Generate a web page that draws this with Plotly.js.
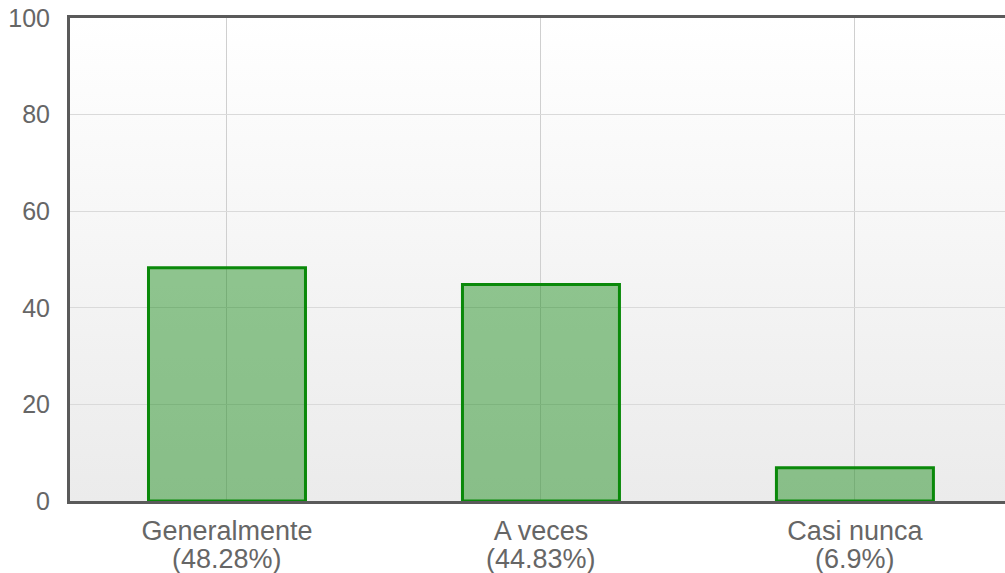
<!DOCTYPE html>
<html>
<head>
<meta charset="utf-8">
<script src="https://cdn.plot.ly/plotly-3.0.1.min.js"></script>
<style>
html,body{margin:0;padding:0;background:#fff;overflow:hidden;}
#wrap{position:relative;width:1005px;height:573px;}
#bg{position:absolute;left:70px;top:18px;width:935px;height:483px;background:linear-gradient(#ffffff,#ebebeb);}
#chart{position:absolute;left:0;top:0;width:1005px;height:573px;}
</style>
</head>
<body>
<div id="wrap"><div id="bg"></div><div id="chart"></div></div>
<script>
const categories = ["Generalmente", "A veces", "Casi nunca"];
const percents = [48.28, 44.83, 6.9];
const percentLabels = ["(48.28%)", "(44.83%)", "(6.9%)"];
const yTicks = [0, 20, 40, 60, 80, 100];

const trace = {
  type: "bar",
  x: categories,
  y: percents,
  width: 0.5,
  marker: {color: "rgba(0,128,0,0.42)", line: {color: "#0a890a", width: 3}},
  hoverinfo: "none"
};

const annotations = categories.map((c, i) => ({
  x: c, xref: "x", y: 0, yref: "paper",
  yanchor: "top", yshift: -41,
  text: percentLabels[i], showarrow: false,
  font: {family: "Liberation Sans, Arial, sans-serif", size: 27, color: "#666"}
}));

const layout = {
  width: 1005, height: 573,
  margin: {l: 70, r: 0, t: 18, b: 72},
  paper_bgcolor: "rgba(0,0,0,0)",
  plot_bgcolor: "rgba(0,0,0,0)",
  showlegend: false,
  font: {family: "Liberation Sans, Arial, sans-serif", size: 25, color: "#666"},
  annotations: annotations,
  xaxis: {
    type: "category",
    range: [-0.5, 2.478],
    tickmode: "array", tickvals: categories, ticktext: categories,
    showgrid: true, gridcolor: "#cfcfcf", gridwidth: 1,
    showline: true, linecolor: "#5a5a5a", linewidth: 3, mirror: true,
    ticks: "", ticklabelstandoff: 4, tickfont: {size: 27, color: "#666"},
    zeroline: false
  },
  yaxis: {
    range: [0, 100],
    tickmode: "array", tickvals: yTicks,
    showgrid: true, gridcolor: "#dadada", gridwidth: 1,
    showline: true, linecolor: "#5a5a5a", linewidth: 3,
    ticks: "", ticklabelstandoff: 12, tickfont: {size: 25, color: "#666"},
    zeroline: false
  },
  bargap: 0.5
};

Plotly.newPlot("chart", [trace], layout, {displayModeBar: false, staticPlot: true});
</script>
</body>
</html>
